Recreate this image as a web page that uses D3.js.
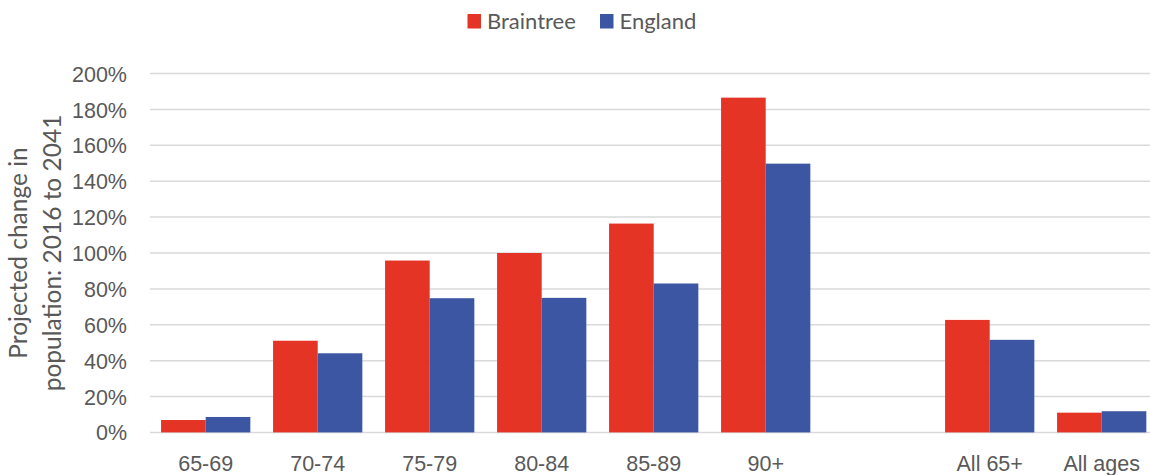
<!DOCTYPE html>
<html>
<head>
<meta charset="utf-8">
<script src="https://cdn.jsdelivr.net/npm/d3@7"></script>
<style>
  html, body { margin: 0; padding: 0; background: #fff; }
  svg { display: block; font-family: Lato, "Open Sans", sans-serif; }
</style>
</head>
<body>
<svg id="chart" width="1150" height="475"></svg>
<script>
// Age bands; the empty slot separates the single-age bands from the totals
const categories = ["65-69", "70-74", "75-79", "80-84", "85-89", "90+", "", "All 65+", "All ages"];
const seriesNames = ["Braintree", "England"];
const braintreeValues = [6.9, 51.1, 95.8, 100.0, 116.4, 186.6, null, 62.7, 11.0];
const englandValues   = [8.6, 44.1, 74.8, 75.0, 83.0, 149.8, null, 51.6, 11.8];
const yTicks = [0, 20, 40, 60, 80, 100, 120, 140, 160, 180, 200];
const axisTitleLines = ["Projected change in", "population: 2016 to 2041"];

const colors = { Braintree: "#E43425", England: "#3C56A4" };
const textColor = "#595959";
const gridColor = "#D9D9D9";

const svg = d3.select("#chart");

const x0 = d3.scaleBand()
  .domain(categories)
  .range([149.7, 1157.7])
  .paddingInner(0.203)
  .paddingOuter(0.1015);

const x1 = d3.scaleBand()
  .domain(seriesNames)
  .range([0, x0.bandwidth()])
  .padding(0);

const y = d3.scaleLinear().domain([0, 200]).range([432.4, 73.6]);

// Horizontal gridlines
svg.append("g")
  .selectAll("line")
  .data(yTicks)
  .join("line")
  .attr("x1", 150)
  .attr("x2", 1150)
  .attr("y1", d => y(d))
  .attr("y2", d => y(d))
  .attr("stroke", gridColor)
  .attr("stroke-width", 1.5);

// Y axis labels
const yAxis = d3.axisLeft(y)
  .tickValues(yTicks)
  .tickFormat(d => d + "%")
  .tickSize(0)
  .tickPadding(0);
const yg = svg.append("g").attr("transform", "translate(127,0)").call(yAxis);
yg.select(".domain").remove();
yg.selectAll("text")
  .attr("fill", textColor)
  .style("font-size", "21.5px")
  .attr("dy", "0.35em");

// Bars
const rows = categories.map((c, i) => ({
  category: c,
  values: [
    { series: "Braintree", value: braintreeValues[i] },
    { series: "England", value: englandValues[i] }
  ].filter(v => v.value !== null)
}));

svg.append("g")
  .selectAll("g")
  .data(rows)
  .join("g")
  .attr("transform", d => `translate(${x0(d.category)},0)`)
  .selectAll("rect")
  .data(d => d.values)
  .join("rect")
  .attr("x", d => x1(d.series))
  .attr("width", x1.bandwidth())
  .attr("y", d => y(d.value))
  .attr("height", d => y(0) - y(d.value))
  .attr("fill", d => colors[d.series]);

// X axis labels
const xAxis = d3.axisBottom(x0).tickSize(0).tickPadding(0);
const xg = svg.append("g").attr("transform", "translate(0,470.5)").call(xAxis);
xg.select(".domain").remove();
xg.selectAll("text")
  .attr("fill", textColor)
  .attr("y", 0)
  .attr("dy", 0)
  .style("font-size", "21.5px");

// Y axis title (two lines, rotated)
const title = svg.append("text")
  .attr("transform", "translate(0,253) rotate(-90)")
  .attr("text-anchor", "middle")
  .attr("fill", textColor)
  .style("font-size", "24.5px");
title.selectAll("tspan")
  .data(axisTitleLines)
  .join("tspan")
  .attr("x", 0)
  .attr("y", (d, i) => 27 + i * 34)
  .text(d => d);

// Legend
const legendItems = [
  { name: "Braintree", x: 467.5 },
  { name: "England", x: 600 }
];
const lg = svg.append("g");
lg.selectAll("rect")
  .data(legendItems)
  .join("rect")
  .attr("x", d => d.x)
  .attr("y", 14)
  .attr("width", 13.5)
  .attr("height", 14.5)
  .attr("fill", d => colors[d.name]);
lg.selectAll("text")
  .data(legendItems)
  .join("text")
  .attr("x", d => d.x + 19.5)
  .attr("y", 28.7)
  .attr("fill", textColor)
  .style("font-size", "22px")
  .text(d => d.name);
</script>
</body>
</html>
